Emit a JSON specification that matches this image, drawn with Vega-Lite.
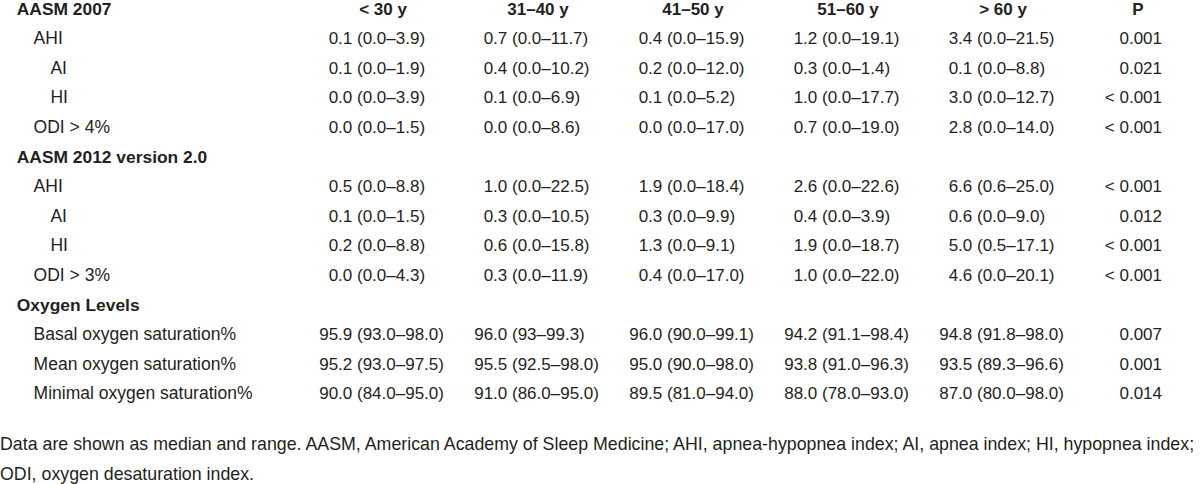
{
  "$schema": "https://vega.github.io/schema/vega-lite/v6.json",
  "width": 1200,
  "height": 484,
  "autosize": "none",
  "padding": 0,
  "background": "white",
  "config": {
    "view": {"stroke": null},
    "text": {"font": "Liberation Sans", "fontSize": 17, "color": "#231f20", "baseline": "middle"}
  },
  "datasets": {
    "sections": [
      {"row": "r0", "lev": "0", "text": "AASM 2007"},
      {"row": "r5", "lev": "0", "text": "AASM 2012 version 2.0"},
      {"row": "r10", "lev": "0", "text": "Oxygen Levels"}
    ],
    "labels": [
      {"row": "r1", "lev": "1", "text": "AHI"},
      {"row": "r2", "lev": "2", "text": "AI"},
      {"row": "r3", "lev": "2", "text": "HI"},
      {"row": "r4", "lev": "1", "text": "ODI > 4%"},
      {"row": "r6", "lev": "1", "text": "AHI"},
      {"row": "r7", "lev": "2", "text": "AI"},
      {"row": "r8", "lev": "2", "text": "HI"},
      {"row": "r9", "lev": "1", "text": "ODI > 3%"},
      {"row": "r11", "lev": "1", "text": "Basal oxygen saturation%"},
      {"row": "r12", "lev": "1", "text": "Mean oxygen saturation%"},
      {"row": "r13", "lev": "1", "text": "Minimal oxygen saturation%"}
    ],
    "notes": [
      {"row": "f1", "lev": "f", "text": "Data are shown as median and range. AASM, American Academy of Sleep Medicine; AHI, apnea-hypopnea index; AI, apnea index; HI, hypopnea index;"},
      {"row": "f2", "lev": "f", "text": "ODI, oxygen desaturation index."}
    ],
    "heads": [
      {"row": "r0", "col": "a", "text": "< 30 y"},
      {"row": "r0", "col": "b", "text": "31–40 y"},
      {"row": "r0", "col": "c", "text": "41–50 y"},
      {"row": "r0", "col": "d", "text": "51–60 y"},
      {"row": "r0", "col": "e", "text": "> 60 y"},
      {"row": "r0", "col": "P", "text": "P"}
    ],
    "cells": [
      {"row": "r1", "col": "a", "m": "0.1", "r": "(0.0–3.9)"},
      {"row": "r1", "col": "b", "m": "0.7", "r": "(0.0–11.7)"},
      {"row": "r1", "col": "c", "m": "0.4", "r": "(0.0–15.9)"},
      {"row": "r1", "col": "d", "m": "1.2", "r": "(0.0–19.1)"},
      {"row": "r1", "col": "e", "m": "3.4", "r": "(0.0–21.5)"},
      {"row": "r2", "col": "a", "m": "0.1", "r": "(0.0–1.9)"},
      {"row": "r2", "col": "b", "m": "0.4", "r": "(0.0–10.2)"},
      {"row": "r2", "col": "c", "m": "0.2", "r": "(0.0–12.0)"},
      {"row": "r2", "col": "d", "m": "0.3", "r": "(0.0–1.4)"},
      {"row": "r2", "col": "e", "m": "0.1", "r": "(0.0–8.8)"},
      {"row": "r3", "col": "a", "m": "0.0", "r": "(0.0–3.9)"},
      {"row": "r3", "col": "b", "m": "0.1", "r": "(0.0–6.9)"},
      {"row": "r3", "col": "c", "m": "0.1", "r": "(0.0–5.2)"},
      {"row": "r3", "col": "d", "m": "1.0", "r": "(0.0–17.7)"},
      {"row": "r3", "col": "e", "m": "3.0", "r": "(0.0–12.7)"},
      {"row": "r4", "col": "a", "m": "0.0", "r": "(0.0–1.5)"},
      {"row": "r4", "col": "b", "m": "0.0", "r": "(0.0–8.6)"},
      {"row": "r4", "col": "c", "m": "0.0", "r": "(0.0–17.0)"},
      {"row": "r4", "col": "d", "m": "0.7", "r": "(0.0–19.0)"},
      {"row": "r4", "col": "e", "m": "2.8", "r": "(0.0–14.0)"},
      {"row": "r6", "col": "a", "m": "0.5", "r": "(0.0–8.8)"},
      {"row": "r6", "col": "b", "m": "1.0", "r": "(0.0–22.5)"},
      {"row": "r6", "col": "c", "m": "1.9", "r": "(0.0–18.4)"},
      {"row": "r6", "col": "d", "m": "2.6", "r": "(0.0–22.6)"},
      {"row": "r6", "col": "e", "m": "6.6", "r": "(0.6–25.0)"},
      {"row": "r7", "col": "a", "m": "0.1", "r": "(0.0–1.5)"},
      {"row": "r7", "col": "b", "m": "0.3", "r": "(0.0–10.5)"},
      {"row": "r7", "col": "c", "m": "0.3", "r": "(0.0–9.9)"},
      {"row": "r7", "col": "d", "m": "0.4", "r": "(0.0–3.9)"},
      {"row": "r7", "col": "e", "m": "0.6", "r": "(0.0–9.0)"},
      {"row": "r8", "col": "a", "m": "0.2", "r": "(0.0–8.8)"},
      {"row": "r8", "col": "b", "m": "0.6", "r": "(0.0–15.8)"},
      {"row": "r8", "col": "c", "m": "1.3", "r": "(0.0–9.1)"},
      {"row": "r8", "col": "d", "m": "1.9", "r": "(0.0–18.7)"},
      {"row": "r8", "col": "e", "m": "5.0", "r": "(0.5–17.1)"},
      {"row": "r9", "col": "a", "m": "0.0", "r": "(0.0–4.3)"},
      {"row": "r9", "col": "b", "m": "0.3", "r": "(0.0–11.9)"},
      {"row": "r9", "col": "c", "m": "0.4", "r": "(0.0–17.0)"},
      {"row": "r9", "col": "d", "m": "1.0", "r": "(0.0–22.0)"},
      {"row": "r9", "col": "e", "m": "4.6", "r": "(0.0–20.1)"},
      {"row": "r11", "col": "a", "m": "95.9", "r": "(93.0–98.0)"},
      {"row": "r11", "col": "b", "m": "96.0", "r": "(93–99.3)"},
      {"row": "r11", "col": "c", "m": "96.0", "r": "(90.0–99.1)"},
      {"row": "r11", "col": "d", "m": "94.2", "r": "(91.1–98.4)"},
      {"row": "r11", "col": "e", "m": "94.8", "r": "(91.8–98.0)"},
      {"row": "r12", "col": "a", "m": "95.2", "r": "(93.0–97.5)"},
      {"row": "r12", "col": "b", "m": "95.5", "r": "(92.5–98.0)"},
      {"row": "r12", "col": "c", "m": "95.0", "r": "(90.0–98.0)"},
      {"row": "r12", "col": "d", "m": "93.8", "r": "(91.0–96.3)"},
      {"row": "r12", "col": "e", "m": "93.5", "r": "(89.3–96.6)"},
      {"row": "r13", "col": "a", "m": "90.0", "r": "(84.0–95.0)"},
      {"row": "r13", "col": "b", "m": "91.0", "r": "(86.0–95.0)"},
      {"row": "r13", "col": "c", "m": "89.5", "r": "(81.0–94.0)"},
      {"row": "r13", "col": "d", "m": "88.0", "r": "(78.0–93.0)"},
      {"row": "r13", "col": "e", "m": "87.0", "r": "(80.0–98.0)"}
    ],
    "pvals": [
      {"row": "r1", "col": "P", "p": "0.001"},
      {"row": "r2", "col": "P", "p": "0.021"},
      {"row": "r3", "col": "P", "p": "< 0.001"},
      {"row": "r4", "col": "P", "p": "< 0.001"},
      {"row": "r6", "col": "P", "p": "< 0.001"},
      {"row": "r7", "col": "P", "p": "0.012"},
      {"row": "r8", "col": "P", "p": "< 0.001"},
      {"row": "r9", "col": "P", "p": "< 0.001"},
      {"row": "r11", "col": "P", "p": "0.007"},
      {"row": "r12", "col": "P", "p": "0.001"},
      {"row": "r13", "col": "P", "p": "0.014"}
    ]
  },
  "encoding": {
    "y": {
      "field": "row", "type": "nominal", "axis": null,
      "scale": {"type": "point", "padding": 0, "range": [9.5, 483.1],
        "domain": ["r0","r1","r2","r3","r4","r5","r6","r7","r8","r9","r10","r11","r12","r13","g","f1","f2"]}
    }
  },
  "resolve": {"scale": {"x": "independent"}},
  "layer": [
    {
      "data": {"name": "sections"},
      "mark": {"type": "text", "align": "left", "fontWeight": "bold", "fontSize": 17.4},
      "encoding": {
        "x": {"field": "lev", "type": "nominal", "axis": null, "scale": {"type": "point", "padding": 0, "domain": ["f","0","1","2"], "range": [0, 50.4]}},
        "text": {"field": "text"}
      }
    },
    {
      "data": {"name": "labels"},
      "mark": {"type": "text", "align": "left", "fontSize": 17.5},
      "encoding": {
        "x": {"field": "lev", "type": "nominal", "axis": null, "scale": {"type": "point", "padding": 0, "domain": ["f","0","1","2"], "range": [0, 50.4]}},
        "text": {"field": "text"}
      }
    },
    {
      "data": {"name": "notes"},
      "mark": {"type": "text", "align": "left", "dy": -8.5, "fontSize": 17.8},
      "encoding": {
        "x": {"field": "lev", "type": "nominal", "axis": null, "scale": {"type": "point", "padding": 0, "domain": ["f","0","1","2"], "range": [0, 50.4]}},
        "text": {"field": "text"}
      }
    },
    {
      "data": {"name": "heads"},
      "transform": [{"filter": "datum.col !== 'P'"}],
      "mark": {"type": "text", "align": "center", "fontWeight": "bold", "dx": 26},
      "encoding": {
        "x": {"field": "col", "type": "nominal", "axis": null, "scale": {"type": "point", "padding": 0, "domain": ["a","b","c","d","e","P"], "range": [357, 1132]}},
        "text": {"field": "text"}
      }
    },
    {
      "data": {"name": "heads"},
      "transform": [{"filter": "datum.col === 'P'"}],
      "mark": {"type": "text", "align": "center", "fontWeight": "bold", "dx": 6},
      "encoding": {
        "x": {"field": "col", "type": "nominal", "axis": null, "scale": {"type": "point", "padding": 0, "domain": ["a","b","c","d","e","P"], "range": [357, 1132]}},
        "text": {"field": "text"}
      }
    },
    {
      "data": {"name": "cells"},
      "mark": {"type": "text", "align": "right", "dx": -4.7},
      "encoding": {
        "x": {"field": "col", "type": "nominal", "axis": null, "scale": {"type": "point", "padding": 0, "domain": ["a","b","c","d","e","P"], "range": [357, 1132]}},
        "text": {"field": "m"}
      }
    },
    {
      "data": {"name": "cells"},
      "mark": {"type": "text", "align": "left"},
      "encoding": {
        "x": {"field": "col", "type": "nominal", "axis": null, "scale": {"type": "point", "padding": 0, "domain": ["a","b","c","d","e","P"], "range": [357, 1132]}},
        "text": {"field": "r"}
      }
    },
    {
      "data": {"name": "pvals"},
      "mark": {"type": "text", "align": "right", "dx": 30},
      "encoding": {
        "x": {"field": "col", "type": "nominal", "axis": null, "scale": {"type": "point", "padding": 0, "domain": ["a","b","c","d","e","P"], "range": [357, 1132]}},
        "text": {"field": "p"}
      }
    }
  ]
}
